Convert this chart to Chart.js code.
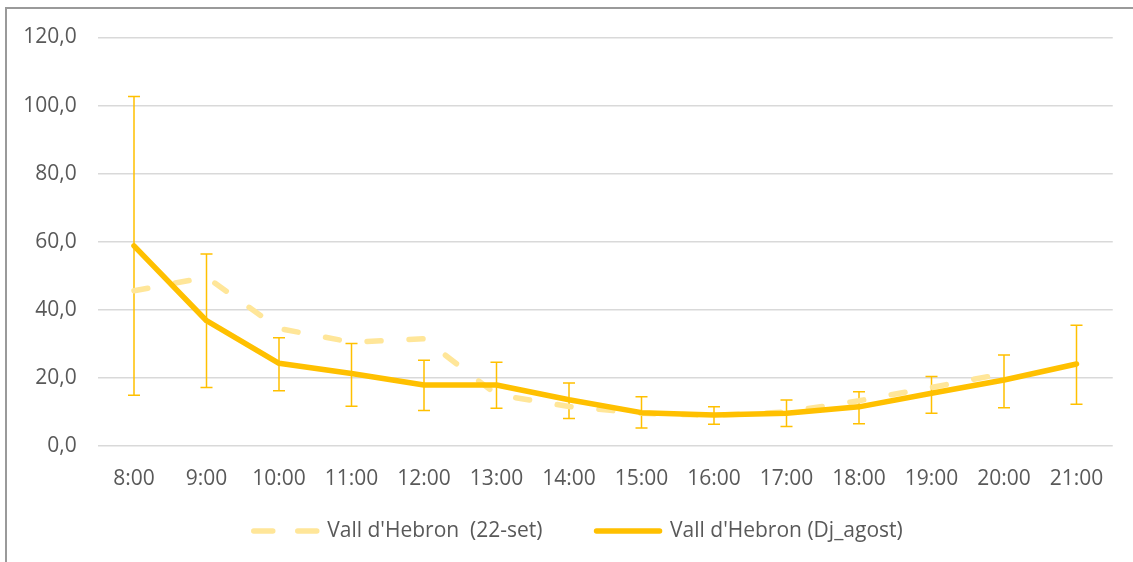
<!DOCTYPE html>
<html>
<head>
<meta charset="utf-8">
<script src="https://cdn.jsdelivr.net/npm/chart.js@4/dist/chart.umd.min.js"></script>
<style>
  html, body { margin: 0; padding: 0; background: #fff; }
  #wrap { position: relative; width: 1133px; height: 562px; overflow: hidden; }
  #frame { position: absolute; left: 5px; top: 7px; width: 1200px; height: 600px;
           border-top: 2px solid #9a9a9a; border-left: 2px solid #9a9a9a; box-sizing: border-box; }
  canvas { position: absolute; left: 0; top: 0; }
</style>
</head>
<body>
<div id="wrap">
  <div id="frame"></div>
  <canvas id="c" width="1133" height="562"></canvas>
</div>
<script>
const categories = ['8:00','9:00','10:00','11:00','12:00','13:00','14:00','15:00','16:00','17:00','18:00','19:00','20:00','21:00'];
const seriesSetNames = ["Vall d'Hebron  (22-set)", "Vall d'Hebron (Dj_agost)"];
const set22Values = [45.6, 49.6, 34.5, 30.5, 31.5, 15.1, 11.6, 9.6, 9.0, 10.0, 13.3, 17.2, 21.3, null];
const djAgostValues = [58.8, 36.8, 24.3, 21.3, 17.9, 17.9, 13.6, 9.8, 9.1, 9.6, 11.5, 15.5, 19.4, 24.1];
const djAgostErrUpper = [102.7, 56.4, 31.8, 30.1, 25.2, 24.6, 18.5, 14.5, 11.5, 13.5, 15.9, 20.4, 26.7, 35.5];
const djAgostErrLower = [14.9, 17.2, 16.2, 11.7, 10.4, 11.1, 8.1, 5.3, 6.4, 5.7, 6.5, 9.6, 11.2, 12.3];
const yTickLabels = ['0,0','20,0','40,0','60,0','80,0','100,0','120,0'];

const FONT = "'Open Sans', sans-serif";
const TEXT = '#595959';

const errorBars = {
  id: 'errorBars',
  beforeDatasetsDraw(chart) {
    const ctx = chart.ctx;
    const x = chart.scales.x, y = chart.scales.y;
    ctx.save();
    ctx.strokeStyle = '#FFC000';
    ctx.lineWidth = 1.5;
    for (let i = 0; i < categories.length; i++) {
      const px = x.getPixelForValue(i);
      const top = y.getPixelForValue(djAgostErrUpper[i]);
      const bot = y.getPixelForValue(djAgostErrLower[i]);
      ctx.beginPath();
      ctx.moveTo(px, top); ctx.lineTo(px, bot);
      ctx.moveTo(px - 6, top); ctx.lineTo(px + 6, top);
      ctx.moveTo(px - 6, bot); ctx.lineTo(px + 6, bot);
      ctx.stroke();
    }
    ctx.restore();
  }
};

// place the legend like the original (slightly left of centre, below the axis labels)
const legendPlace = {
  id: 'legendPlace',
  beforeLayout(chart) {
    const lg = chart.legend;
    if (lg && !lg._fitPatched) {
      const proto = Object.getPrototypeOf(lg);
      lg.fit = function () { proto.fit.call(this); this.height = 72; };
      lg._fitPatched = true;
    }
  },
  afterLayout(chart) {
    const lg = chart.legend;
    if (!lg) return;
    const dx = 578.25 - (lg.left + lg.right) / 2;
    lg.left += dx; lg.right += dx;
    lg.top = 466.5;
    lg.bottom = chart.height;
    lg.height = lg.bottom - lg.top;
  }
};

new Chart(document.getElementById('c'), {
  type: 'line',
  data: {
    labels: categories,
    datasets: [
      {
        label: seriesSetNames[0],
        data: set22Values,
        borderColor: '#FFE699',
        backgroundColor: '#FFE699',
        borderWidth: 5.5,
        borderDash: [14, 28],
        borderCapStyle: 'round',
        borderJoinStyle: 'round',
        pointRadius: 0,
        tension: 0,
        order: 2
      },
      {
        label: seriesSetNames[1],
        data: djAgostValues,
        borderColor: '#FFC000',
        backgroundColor: '#FFC000',
        borderWidth: 5.5,
        borderCapStyle: 'round',
        borderJoinStyle: 'round',
        pointRadius: 0,
        tension: 0,
        order: 1
      }
    ]
  },
  options: {
    responsive: false,
    animation: false,
    layout: { padding: { left: 0, right: 20.25, top: 37.5, bottom: 0 } },
    plugins: {
      tooltip: { enabled: false },
      legend: {
        position: 'bottom',
        labels: {
          usePointStyle: true,
          pointStyle: 'line',
          pointStyleWidth: 63,
          padding: 54,
          color: TEXT,
          font: { family: FONT, size: 21 },
          sort: (a, b) => a.datasetIndex - b.datasetIndex,
          generateLabels(chart) {
            const items = Chart.defaults.plugins.legend.labels.generateLabels(chart);
            items.forEach(it => {
              it.pointStyle = 'line';
              it.lineCap = 'round';
              it.lineWidth = 5.5;
              if (it.datasetIndex === 0) it.lineDash = [19, 25];
            });
            return items;
          }
        }
      }
    },
    scales: {
      x: {
        offset: true,
        grid: { display: false, drawTicks: false, offset: true },
        border: { display: false },
        ticks: { color: TEXT, font: { family: FONT, size: 21 }, padding: 20, maxRotation: 0, autoSkip: false },
        afterFit(scale) { scale.height = 44; }
      },
      y: {
        min: 0, max: 120,
        grid: { color: '#d9d9d9', lineWidth: 1.5, drawTicks: false },
        border: { display: false },
        ticks: {
          stepSize: 20,
          color: TEXT,
          font: { family: FONT, size: 21 },
          padding: 21,
          callback: (v) => yTickLabels[Math.round(v / 20)]
        },
        afterFit(scale) { scale.width = 97.75; }
      }
    }
  },
  plugins: [errorBars, legendPlace]
});
</script>
</body>
</html>
